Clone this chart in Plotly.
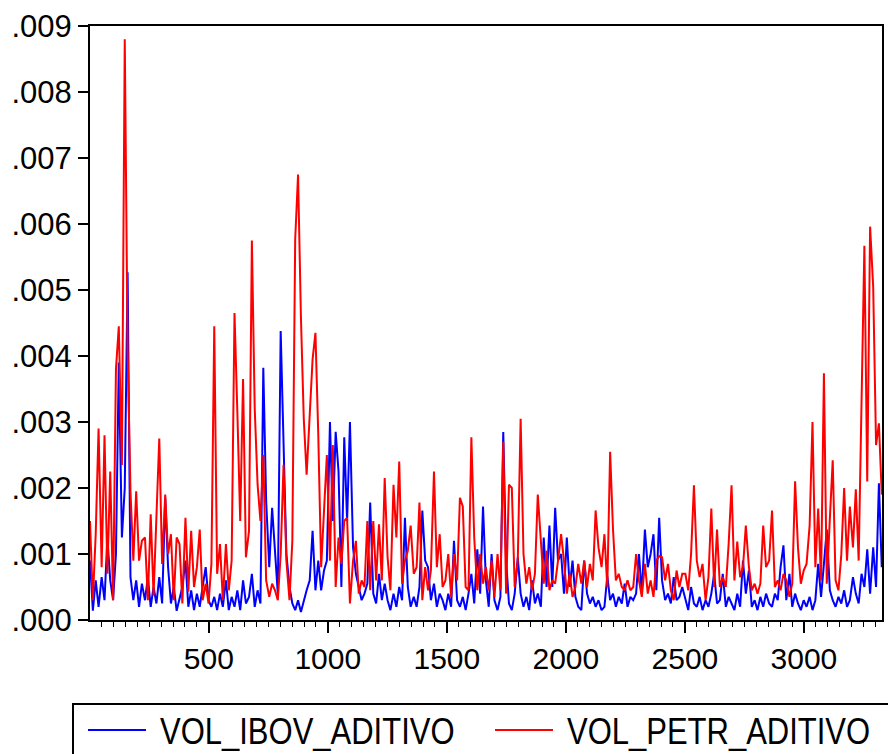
import plotly.graph_objects as go

# values in thousandths (x 0.001),
# sampled evenly along the ~3328-observation sample
vol_ibov_milli = [
    0.9, 0.14, 0.6, 0.2, 0.65, 0.3, 1.25, 0.6, 0.3, 1.0,
    3.9, 1.25, 2.0, 5.27, 0.65, 0.3, 0.6, 0.2, 0.55, 0.3,
    0.65, 0.2, 0.5, 0.25, 0.65, 0.25, 1.85, 0.8, 0.25, 0.5,
    0.14, 0.3, 0.5, 0.9,
    0.2, 0.45, 0.15, 0.4, 0.2, 0.5, 0.8, 0.3, 0.2, 0.35,
    0.15, 0.4, 0.2, 0.6, 0.15, 0.35, 0.2, 0.45, 0.15, 0.6,
    0.25, 0.35, 0.7, 0.2, 0.45, 0.25, 3.82, 1.8, 0.8, 1.7,
    1.0, 0.4, 4.38, 2.6,
    1.0, 0.5, 0.25, 0.15, 0.3, 0.12, 0.3, 0.45, 0.6, 1.35,
    0.45, 0.9, 0.45, 0.75, 0.9, 3.0, 1.5, 2.85, 2.25, 0.5,
    2.77, 1.5, 3.0, 1.1, 0.7, 0.5, 0.3, 0.4, 0.55, 1.78,
    0.4, 0.25, 0.7, 0.3, 0.55,
    0.3, 0.15, 0.4, 0.2, 0.5, 0.3, 1.55, 0.5, 0.2, 0.35,
    0.2, 0.5, 1.66, 0.9, 0.8, 0.3, 0.55, 0.2, 0.4, 0.3,
    0.15, 0.4, 0.2, 1.2, 0.3, 0.2, 0.35, 0.15, 0.4, 0.7,
    0.25, 1.07, 0.4, 1.72,
    0.6, 0.2, 1.0, 0.3, 0.15, 0.35, 2.85, 0.9, 0.25, 0.15,
    0.4, 0.95, 0.4, 0.2, 0.35, 0.15, 0.6, 0.25, 0.4, 0.2,
    1.25, 0.5, 1.43, 0.5, 1.7, 0.9, 1.0, 0.4, 1.25, 0.5,
    0.9, 0.35, 0.2, 0.15, 0.9,
    0.4, 0.25, 0.35, 0.2, 0.3, 0.15, 0.2, 0.67, 0.3, 0.4,
    0.2, 0.35, 0.25, 0.55, 0.2, 0.35, 0.3, 0.4, 1.0, 0.4,
    1.37, 0.8, 1.0, 1.3, 0.45, 1.55, 0.6, 0.3, 0.4, 0.25,
    0.65, 0.3, 0.35, 0.5,
    0.3, 0.15, 0.5, 0.25, 0.2, 0.35, 0.15, 0.3, 0.2, 0.4,
    0.7, 0.25, 0.3, 0.7, 0.2, 0.35, 0.25, 0.15, 0.4, 0.2,
    0.9, 0.4, 0.75, 0.2, 0.3, 0.15, 0.35, 0.2, 0.4, 0.25,
    0.2, 0.4, 0.3, 0.8, 1.13,
    0.3, 0.7, 0.2, 0.4, 0.25, 0.15, 0.3, 0.2, 0.35, 0.15,
    0.3, 0.85, 0.35, 0.85, 1.37, 0.45, 0.3, 0.2, 0.35, 0.25,
    0.45, 0.2, 0.3, 0.65, 0.4, 0.25, 0.7, 0.5, 1.07, 0.4,
    1.1, 0.5, 2.07, 0.8,
]

vol_petr_milli = [
    1.5, 0.3, 1.3, 2.9, 0.8, 2.8, 0.7, 2.25, 0.3, 3.8,
    4.45, 2.35, 8.8, 4.1, 1.95, 0.9, 1.95, 0.9, 1.2, 1.25,
    0.3, 1.6, 0.37, 1.6, 2.75, 0.85, 1.9, 1.0, 1.3, 0.3,
    1.25, 1.15, 0.25, 1.55,
    0.43, 1.35, 0.5, 0.8, 1.37, 0.3, 0.55, 0.25, 0.85, 4.45,
    0.7, 1.15, 0.3, 1.15, 0.45, 0.9, 4.65, 3.15, 1.5, 3.65,
    0.95, 1.35, 5.75, 3.2, 2.05, 1.5, 2.5, 0.6, 0.35, 0.55,
    0.45, 0.3, 1.0, 2.35,
    0.9, 0.3, 1.2, 5.77, 6.75, 4.6, 3.05, 2.2, 3.2, 3.95,
    4.35, 2.8, 0.8, 1.7, 2.5, 0.9, 2.65, 0.5, 1.25, 0.85,
    1.5, 1.55, 0.25, 0.9, 1.2, 0.4, 0.6, 0.5, 1.5, 0.45,
    1.5, 0.6, 1.45, 0.6, 2.15,
    0.95, 0.45, 2.05, 1.25, 2.4, 0.55, 0.9, 1.05, 1.43, 0.7,
    0.8, 1.78, 0.3, 0.8, 0.45, 0.75, 2.25, 0.8, 1.3, 0.5,
    0.6, 1.0, 0.35, 1.0, 0.6, 1.85, 1.72, 0.5, 0.45, 2.77,
    1.25, 0.45, 1.0, 0.55,
    0.8, 0.45, 0.9, 0.35, 1.0, 0.45, 2.7, 0.4, 2.05, 2.0,
    0.5, 0.9, 3.05, 1.0, 0.55, 0.8, 0.45, 0.7, 1.9, 1.1,
    0.55, 1.05, 0.45, 0.6, 0.55, 0.9, 1.3, 0.9, 0.4, 0.7,
    0.35, 0.5, 0.85, 0.55, 0.9,
    0.5, 0.85, 0.6, 1.66, 1.1, 0.8, 1.3, 0.5, 2.55, 1.37,
    0.6, 0.7, 0.5, 0.45, 0.6, 0.45, 0.5, 1.0, 0.6, 0.35,
    0.85, 0.4, 0.6, 0.35, 0.9, 0.97, 0.95, 0.6, 0.85, 0.45,
    0.3, 0.75, 0.5, 0.7,
    0.7, 0.45, 1.0, 2.04, 0.9, 0.65, 0.85, 0.3, 0.65, 1.69,
    0.5, 1.37, 0.5, 0.65, 0.5, 1.16, 2.04, 0.6, 1.19, 0.65,
    0.8, 1.43, 0.8, 0.45, 0.55, 0.4, 0.55, 1.43, 0.8, 0.9,
    1.66, 0.5, 0.6, 0.45, 0.7,
    0.6, 0.35, 0.55, 2.1, 1.1, 0.55, 0.75, 0.85, 1.43, 3.0,
    0.8, 1.69, 0.6, 3.74, 0.55, 1.54, 2.42, 0.6, 0.45, 0.99,
    2.0, 0.9, 1.72, 1.1, 1.98, 0.9, 3.6, 5.67, 2.1, 5.96,
    5.05, 2.65, 2.98, 1.9,
]

n_obs = 3328
y_tick_vals = [0.000, 0.001, 0.002, 0.003, 0.004, 0.005, 0.006, 0.007, 0.008, 0.009]
y_tick_text = [".000", ".001", ".002", ".003", ".004", ".005", ".006", ".007", ".008", ".009"]
x_tick_vals = [500, 1000, 1500, 2000, 2500, 3000]

series_names = ["VOL_IBOV_ADITIVO", "VOL_PETR_ADITIVO"]
series_colors = ["#0000ff", "#ff0000"]

# observation numbers of the sampled points (evenly spread over the sample)
n_pts = len(vol_ibov_milli)
obs = [1 + round(i * (n_obs - 2) / (n_pts - 1)) for i in range(n_pts)]

ibov = [v * 1e-3 for v in vol_ibov_milli]
petr = [v * 1e-3 for v in vol_petr_milli]

fig = go.Figure()
fig.add_trace(go.Scatter(x=obs, y=ibov, mode="lines", name=series_names[0],
                         line=dict(color=series_colors[0], width=2)))
fig.add_trace(go.Scatter(x=obs, y=petr, mode="lines", name=series_names[1],
                         line=dict(color=series_colors[1], width=2)))

regular = "Liberation Sans, Arial, sans-serif"

fig.update_layout(
    width=888, height=754,
    margin=dict(l=90, r=6, t=26, b=134),
    paper_bgcolor="white", plot_bgcolor="white",
    showlegend=False,
    xaxis=dict(
        range=[1, n_obs], tickvals=x_tick_vals, automargin=False,
        ticks="outside", ticklen=11, tickwidth=1.5, tickcolor="black",
        showline=True, linecolor="black", linewidth=2, mirror=True,
        showgrid=False, zeroline=False,
        tickfont=dict(family=regular, size=30, color="black"),
        minor=dict(dtick=50, tick0=0, ticks="outside", ticklen=5,
                   tickwidth=1.2, tickcolor="black", showgrid=False),
    ),
    yaxis=dict(
        range=[0, 0.009], tickvals=y_tick_vals, ticktext=y_tick_text,
        automargin=False,
        ticks="outside", ticklen=10, tickwidth=1.5, tickcolor="black",
        showline=True, linecolor="black", linewidth=2, mirror=True,
        showgrid=False, zeroline=False,
        tickfont=dict(family=regular, size=31, color="black"),
    ),
)

# legend box drawn below the plot (cut by the page edges as in the reference)
def px_x(p):
    return (p - 90) / 792.0

def px_y(p):
    return (620 - p) / 594.0

fig.add_shape(type="rect", xref="paper", yref="paper",
              x0=px_x(73), x1=px_x(895), y0=px_y(704), y1=px_y(765),
              line=dict(color="black", width=2), fillcolor="rgba(0,0,0,0)")
legend_line_x = [(88, 146), (495, 553)]
legend_text_x = [158, 565]
for i in range(2):
    fig.add_shape(type="line", xref="paper", yref="paper",
                  x0=px_x(legend_line_x[i][0]), x1=px_x(legend_line_x[i][1]),
                  y0=px_y(730), y1=px_y(730),
                  line=dict(color=series_colors[i], width=2))
    fig.add_annotation(xref="paper", yref="paper", x=px_x(legend_text_x[i]), y=px_y(731),
                       xanchor="left", yanchor="middle", align="left", showarrow=False,
                       text=series_names[i],
                       font=dict(family=regular, size=31, color="black"))

# page without default body margin; the reference legend uses a tall, narrow
# face: stretch the legend texts vertically about their centre
post = """
document.body.style.margin = '0';
document.body.style.padding = '0';
var gd = document.getElementById('{plot_id}');
gd.querySelectorAll('.annotation-text').forEach(function(t){
  var bb = t.getBBox();
  var cy = bb.y + bb.height / 2;
  var s = 37 / 31;
  var prev = t.getAttribute('transform') || '';
  t.setAttribute('transform', prev + ' translate(0,' + cy + ') scale(1,' + s + ') translate(0,' + (-cy) + ')');
});
"""

fig.write_html("out.html", post_script=post, config={"displayModeBar": False})
